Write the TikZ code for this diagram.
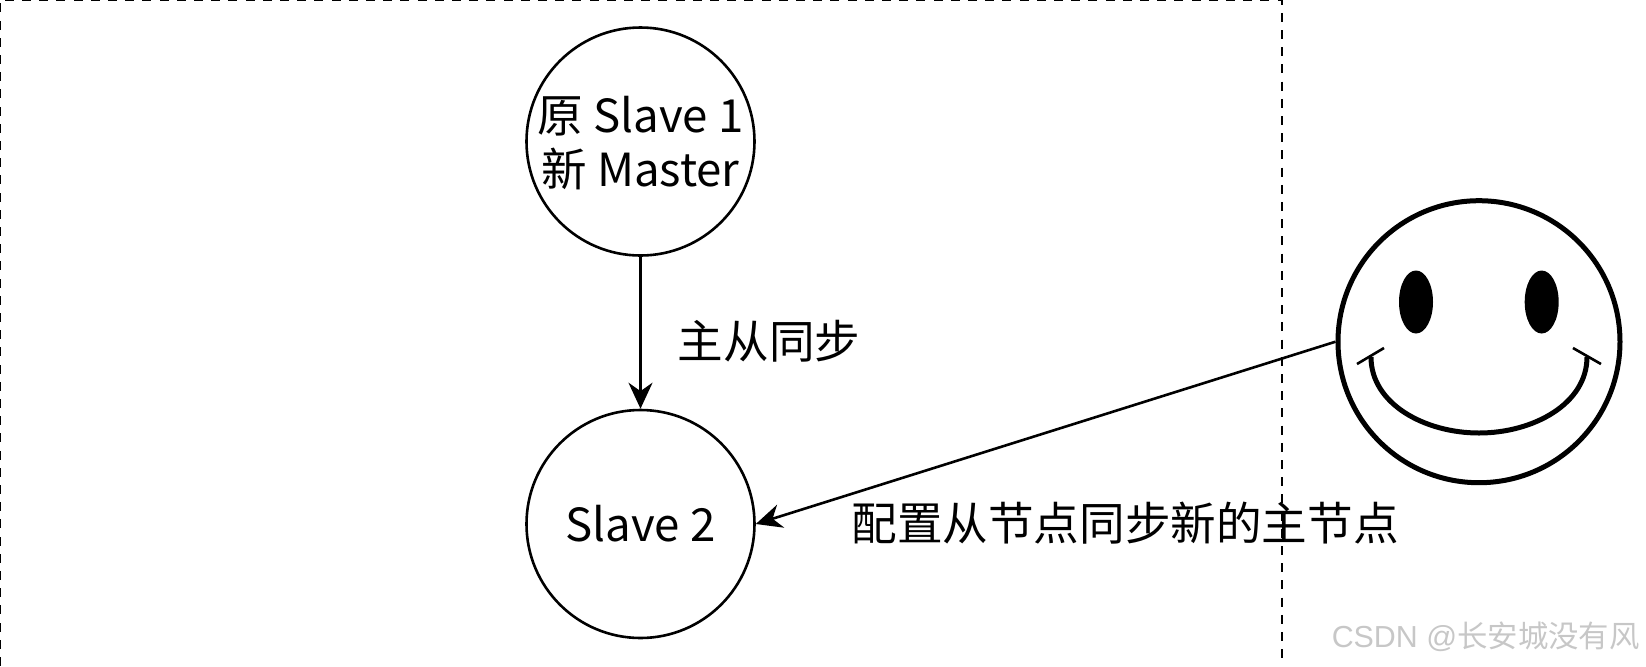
\documentclass[tikz,border=0pt]{standalone}
\usepackage{fontspec}
\setmainfont{Noto Sans CJK SC}
\newfontfamily\wmlatin{Liberation Sans}
\usetikzlibrary{arrows.meta}
\tikzset{
  px/.style={x=0.5pt,y=-0.5pt},
  peer/.style={circle,draw=black,line width=1.3pt,minimum size=114pt,inner sep=0pt,align=center,font=\fontsize{22.8pt}{27.4pt}\selectfont},
  lab/.style={inner sep=0pt,font=\fontsize{22.8pt}{27.4pt}\selectfont},
  link/.style={draw=black,line width=1.3pt,-{Stealth[length=13pt,width=12pt]}},
  frame/.style={draw=black,line width=1.4pt,dash pattern=on 4.5pt off 4.1pt},
  face/.style={draw=black,line width=2.5pt},
  tick/.style={draw=black,line width=1.3pt},
  wm/.style={inner sep=0pt,text=black!22,font=\fontsize{15.2pt}{17pt}\selectfont},
}
\begin{document}
\begin{tikzpicture}[px]
\useasboundingbox (0,0) rectangle (1646,666);
\coordinate (tl) at (0,0);
\coordinate (bl) at (0,666);
\coordinate (tr) at (1282,0);
\coordinate (br) at (1282,660);
\draw[frame] (bl) -- (tl) -- (tr) -- (br);
\node[peer] (master) at (640.5,141.5) {\raisebox{-8.7pt}[0pt][0pt]{\makebox[0pt]{\begin{tabular}{@{}c@{}}原 Slave 1\\[0pt]新 Master\end{tabular}}}};
\node[peer] (slave) at (640.5,524) {Slave 2};
\node[circle,face,minimum size=141pt,inner sep=0pt] (user) at (1479,341.7) {};
\fill[black] (1416,302) ellipse [x radius=17,y radius=31.5];
\fill[black] (1541.7,302) ellipse [x radius=17,y radius=31.5];
\draw[face] (1371,357) .. controls (1371,404) and (1425,433) .. (1479,433) .. controls (1533,433) and (1587,404) .. (1587,357);
\draw[tick] (1357,364) -- (1384,348);
\draw[tick] (1573,348) -- (1601,364);
\draw[link] (master) -- (slave);
\draw[link] (user.west) -- (slave.east);
\node[lab,anchor=center] (l1) at (769,341) {主从同步};
\node[lab,anchor=center] (l2) at (1125,523) {配置从节点同步新的主节点};
\node[wm,anchor=east] (wmark) at (1640,637) {{\wmlatin CSDN @}长安城没有风};
\end{tikzpicture}
\end{document}
